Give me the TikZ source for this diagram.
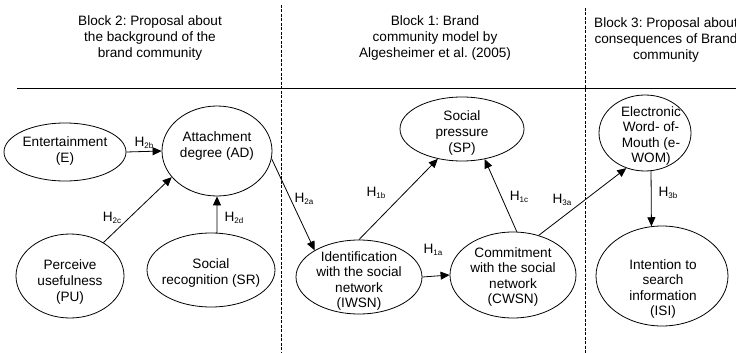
\documentclass[tikz,border=0pt]{standalone}
\usepackage{fontspec}
\setmainfont{Liberation Sans}
\usetikzlibrary{arrows.meta,shapes.geometric}
\frenchspacing
\newcommand{\Hs}[1]{H\raisebox{-0.35ex}{\fontsize{8}{8}\selectfont #1}}
\tikzset{
  el/.style={draw, line width=0.8pt, ellipse, inner sep=0pt},
  txt/.style={align=center, inner sep=0pt, font=\fontsize{13.6}{15.6}\selectfont},
  hd/.style={align=center, inner sep=0pt, font=\fontsize{13.6}{15.6}\selectfont},
  lab/.style={inner sep=0pt, font=\fontsize{13.6}{15.6}\selectfont},
  arr/.style={line width=0.8pt, -{Triangle[length=9pt,width=8pt]}},
  sep/.style={line width=0.8pt, dash pattern=on 3pt off 1.5pt}
}
\begin{document}
\begin{tikzpicture}[x=1pt,y=-1pt]
\useasboundingbox (0,0) rectangle (736,353);
\clip (0,0) rectangle (736,353);
% headings
\node[hd] (b2) at (150,38) {Block 2: Proposal about\\the background of the\\brand community};
\node[hd] (b1) at (435,38) {Block 1: Brand\\community model by\\Algesheimer et al. (2005)};
\node[hd] (b3) at (666,40) {Block 3: Proposal about\\consequences of Brand\\community};
% separators
\coordinate (hl) at (17,88);
\coordinate (hr) at (736,88);
\draw[line width=1pt] (hl) -- (hr);
\coordinate (d1t) at (281,5);
\coordinate (d1b) at (281,353);
\coordinate (d2t) at (585,8);
\coordinate (d2b) at (585,353);
\draw[sep] (d1t) -- (d1b);
\draw[sep] (d2t) -- (d2b);
% ellipses
\node[el, minimum width=122pt, minimum height=58pt] (E) at (65,152) {};
\node[el, minimum width=110pt, minimum height=90pt] (AD) at (217,151) {};
\node[el, minimum width=108pt, minimum height=84pt] (PU) at (70,276) {};
\node[el, minimum width=128pt, minimum height=74pt] (SR) at (211,270) {};
\node[el, minimum width=126pt, minimum height=74pt] (IWSN) at (359,277) {};
\node[el, minimum width=126pt, minimum height=86pt] (CWSN) at (513,275) {};
\node[el, minimum width=124pt, minimum height=64pt] (SP) at (462,129) {};
\node[el, minimum width=92pt, minimum height=76pt] (eWOM) at (645,133) {};
\node[el, minimum width=132pt, minimum height=100pt] (ISI) at (662,276) {};
% texts
\node[txt] (tE) at (65,151) {Entertainment\\(E)};
\node[txt] (tAD) at (217,146) {Attachment\\degree (AD)};
\node[txt] (tPU) at (70,282) {Perceive\\usefulness\\(PU)};
\node[txt] (tSR) at (211,273) {Social\\recognition (SR)};
\node[txt] (tIWSN) at (359,281) {Identification\\with the social\\network\\(IWSN)};
\node[txt] (tCWSN) at (513,277) {Commitment\\with the social\\network\\(CWSN)};
\node[txt] (tSP) at (462,133) {Social\\pressure\\(SP)};
\node[txt] (teWOM) at (651,136) {Electronic\\Word- of-\\Mouth (e-\\WOM)};
\node[txt] (tISI) at (663,289) {Intention to\\search\\information\\(ISI)};
% arrows
\draw[arr] (E.east) -- (AD.west);
\draw[arr] (PU.45) -- (AD.210);
\draw[arr] (SR.81) -- (AD.south);
\draw[arr] (AD.352) -- (IWSN.149);
\draw[arr] (IWSN.east) -- (CWSN.west);
\draw[arr] (IWSN.north) -- (SP.231);
\draw[arr] (CWSN.85) -- (SP.307);
\draw[arr] (CWSN.57) -- (eWOM.242);
\draw[arr] (eWOM.279) -- (ISI.102);
% labels
\node[lab] (l2b) at (144,143) {\Hs{2b}};
\node[lab] (l2c) at (112,218) {\Hs{2c}};
\node[lab] (l2d) at (234,218) {\Hs{2d}};
\node[lab] (l2a) at (304,199) {\Hs{2a}};
\node[lab] (l1b) at (376,193) {\Hs{1b}};
\node[lab] (l1a) at (433,250) {\Hs{1a}};
\node[lab] (l1c) at (519,197) {\Hs{1c}};
\node[lab] (l3a) at (562,200) {\Hs{3a}};
\node[lab] (l3b) at (668,193) {\Hs{3b}};
\end{tikzpicture}
\end{document}
